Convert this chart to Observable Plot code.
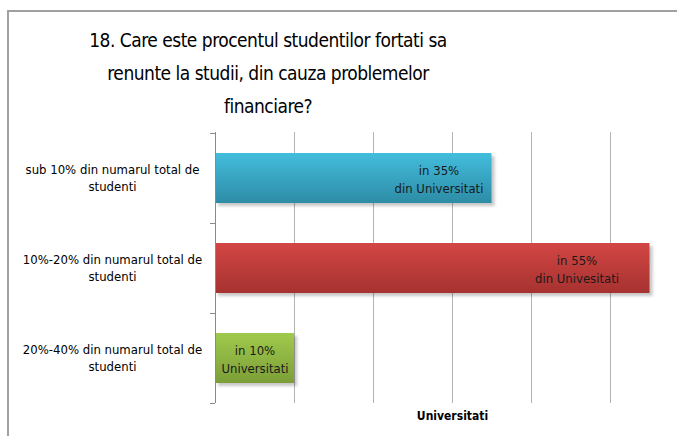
<!DOCTYPE html>
<html>
<head>
<meta charset="utf-8">
<script src="https://cdn.jsdelivr.net/npm/d3@7"></script>
<script src="https://cdn.jsdelivr.net/npm/@observablehq/plot@0.6"></script>
<style>
  html, body { margin: 0; padding: 0; background: #fff; }
  #wrap { position: relative; width: 677px; height: 436px; overflow: hidden; font-family: "DejaVu Sans Condensed", "Liberation Sans Narrow", sans-serif; }
  #frame { position: absolute; left: 7px; top: 10px; width: 700px; height: 460px; border-left: 2px solid #a0a0a0; border-top: 2px solid #a0a0a0; box-sizing: border-box; }
  #title { position: absolute; left: 0; top: 0; width: 536px; height: 120px; text-align: center; font-size: 19px; letter-spacing: -0.5px; line-height: 33px; color: #000; padding-top: 24px; box-sizing: border-box; }
  #chart { position: absolute; left: 0; top: 120px; }
</style>
</head>
<body>
<div id="wrap">
  <div id="frame"></div>
  <div id="title"></div>
  <div id="chart"></div>
</div>
<script>
const titleLines = ["18. Care este procentul studentilor fortati sa", "renunte la studii, din cauza problemelor", "financiare?"];
const categories = [
  "sub 10% din numarul total de studenti",
  "10%-20% din numarul total de studenti",
  "20%-40% din numarul total de studenti"
];
const values = [35, 55, 10];
const barLabels = ["in 35%\ndin Universitati", "in 55%\ndin Univesitati", "in 10%\nUniversitati"];
const gridTicks = [10, 20, 30, 40, 50];
const xLabel = "Universitati";
const gradIds = ["gBlue", "gRed", "gGreen"];

document.getElementById("title").innerHTML = titleLines.join("<br>");

const data = categories.map((c, i) => ({cat: c, value: values[i], label: barLabels[i], grad: gradIds[i]}));
const splitLabel = s => s.replace(" de studenti", " de\nstudenti");
const font = "DejaVu Sans Condensed, Liberation Sans Narrow, sans-serif";

const chart = Plot.plot({
  width: 677,
  height: 316,
  marginTop: 12,
  marginBottom: 33,
  marginLeft: 215,
  marginRight: 0,
  style: {fontFamily: font, background: "transparent", overflow: "visible"},
  x: {domain: [0, 60], range: [215, 689], axis: null},
  y: {domain: categories, paddingInner: 0.45, paddingOuter: 0.225, axis: null},
  color: {type: "ordinal", domain: gradIds, range: gradIds.map(g => `url(#${g})`)},
  marks: [
    Plot.ruleX(gridTicks, {stroke: "#b4b4b4", strokeWidth: 1}),
    Plot.barX(data, {y: "cat", x: "value", dx: 3, dy: 3, fill: "#000", fillOpacity: 0.22, className: "shadow"}),
    Plot.barX(data, {y: "cat", x: "value", fill: "grad"}),
    Plot.ruleX([0], {stroke: "#8a8a8a", strokeWidth: 1}),
    Plot.axisY({tickSize: 5, tickFormat: () => "", label: null, dy: 45, stroke: "#8a8a8a"}),
    Plot.axisY({tickSize: 5, tickFormat: () => "", label: null, dy: -45, stroke: "#8a8a8a"}),
    Plot.text(data, {y: "cat", text: d => splitLabel(d.cat), frameAnchor: "left", dx: -103, dy: -1, textAnchor: "middle", fontSize: 13, lineHeight: 1.3, fill: "#000"}),
    Plot.text(data.filter((d, i) => i === 0), {y: "cat", x: "value", text: "label", dx: -53, textAnchor: "middle", fontSize: 13, lineHeight: 1.35, fill: "#1a1a1a"}),
    Plot.text(data.filter((d, i) => i === 1), {y: "cat", x: "value", text: "label", dx: -73, textAnchor: "middle", fontSize: 13, lineHeight: 1.35, fill: "#1a1a1a"}),
    Plot.text(data.filter((d, i) => i === 2), {y: "cat", x: d => d.value / 2, text: "label", textAnchor: "middle", fontSize: 13, lineHeight: 1.35, fill: "#1a1a1a"}),
    Plot.text([xLabel], {frameAnchor: "bottom", x: 30, text: d => d, dy: 16, fontSize: 12, fontWeight: "bold", fill: "#000"})
  ]
});

const svg = d3.select(chart);
const defs = svg.insert("defs", ":first-child");
const grads = [
  ["gBlue", "#43bddd", "#2d8ca6"],
  ["gRed", "#d24644", "#a63230"],
  ["gGreen", "#a0ca4c", "#7c9e38"]
];
for (const [id, top, bottom] of grads) {
  const g = defs.append("linearGradient").attr("id", id).attr("x1", 0).attr("y1", 0).attr("x2", 0).attr("y2", 1);
  g.append("stop").attr("offset", "0%").attr("stop-color", top);
  g.append("stop").attr("offset", "100%").attr("stop-color", bottom);
}
const f = defs.append("filter").attr("id", "blur").attr("x", "-20%").attr("y", "-20%").attr("width", "140%").attr("height", "140%");
f.append("feGaussianBlur").attr("stdDeviation", 1.5);
svg.selectAll(".shadow").attr("filter", "url(#blur)");

document.getElementById("chart").appendChild(chart);
</script>
</body>
</html>
